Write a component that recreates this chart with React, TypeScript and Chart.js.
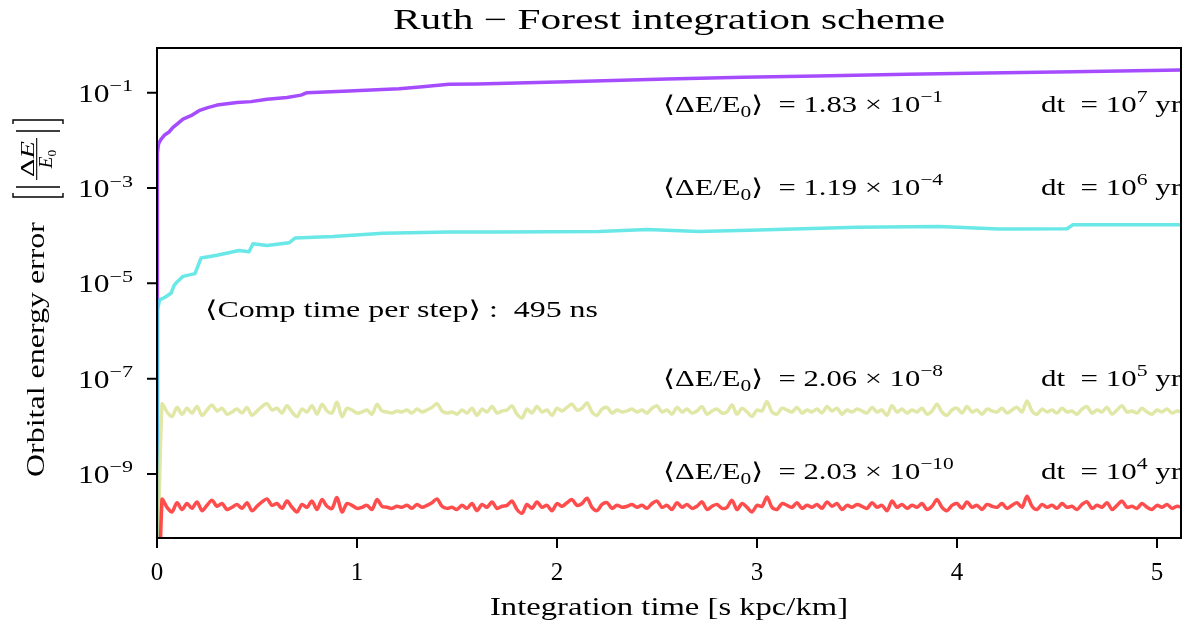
import { useEffect, useRef } from "react";
import { Chart, registerables } from "chart.js";

Chart.register(...registerables);

// ---- data -----------------------------------------------------------------
// dt = 1e7 yr run: relative energy error vs integration time [s kpc/km]
const dt7Time = [0, 0.002, 0.008, 0.018, 0.038, 0.06, 0.08, 0.1, 0.13, 0.17, 0.21, 0.25, 0.3, 0.4, 0.47, 0.55, 0.65, 0.72, 0.75, 0.96, 1.21, 1.3, 1.46, 1.6, 2.05, 2.55, 2.93, 3.3, 3.75, 4.15, 4.58, 5.12];
const dt7Err = [1e-12, 5.4e-3, 8.5e-3, 1.02e-2, 1.3e-2, 1.5e-2, 1.87e-2, 2.2e-2, 2.8e-2, 3.3e-2, 4.2e-2, 4.8e-2, 5.5e-2, 6.2e-2, 6.5e-2, 7.3e-2, 7.9e-2, 8.9e-2, 0.1, 0.108, 0.121, 0.13, 0.15, 0.152, 0.17, 0.194, 0.21, 0.225, 0.243, 0.26, 0.276, 0.3];

// dt = 1e6 yr run
const dt6Time = [0, 0.002, 0.013, 0.04, 0.07, 0.085, 0.1, 0.13, 0.19, 0.215, 0.22, 0.3, 0.41, 0.46, 0.48, 0.55, 0.66, 0.69, 0.88, 1.13, 1.46, 1.71, 2.21, 2.45, 2.71, 2.96, 3.5, 3.91, 4.21, 4.55, 4.58, 5.12];
const dt6Err = [1e-12, 2.7e-6, 4.5e-6, 5.1e-6, 6.2e-6, 9e-6, 1.07e-5, 1.4e-5, 1.6e-5, 3.0e-5, 3.4e-5, 3.9e-5, 4.9e-5, 4.6e-5, 6.8e-5, 6.2e-5, 7.1e-5, 8.9e-5, 9.6e-5, 1.12e-4, 1.2e-4, 1.2e-4, 1.23e-4, 1.35e-4, 1.22e-4, 1.3e-4, 1.5e-4, 1.55e-4, 1.38e-4, 1.4e-4, 1.7e-4, 1.7e-4];

// dt = 1e5 yr and 1e4 yr runs share the same oscillation pattern; output every 0.025 s kpc/km
const smallDtOutputStep = 0.025;
const smallDtMantissa = [
  0.0001,
  2.9, 2.0, 1.6, 2.5, 1.8, 2.4, 1.9, 2.6, 1.7, 2.2,
  2.8, 2.1, 2.4, 1.8, 2.0, 2.3, 1.9, 2.5, 1.7, 2.1,
  2.6, 3.0, 2.2, 2.4, 1.9, 2.7, 2.0, 1.6, 2.3, 2.0,
  2.7, 1.8, 2.9, 2.1, 1.9, 3.2, 1.6, 2.4, 2.2, 1.9,
  2.0, 2.2, 1.8, 2.9, 2.1, 2.0, 1.9, 2.1, 2.0, 2.2,
  1.9, 2.3, 2.0, 2.2, 2.5, 3.0, 2.1, 1.9, 2.0, 1.8,
  2.2, 1.9, 2.4, 1.7, 2.3, 2.0, 2.6, 1.9, 2.1, 2.2,
  2.7, 1.8, 1.5, 2.3, 1.9, 2.6, 2.0, 2.2, 1.7, 2.4,
  2.1, 2.5, 2.9, 2.2, 2.4, 3.1, 2.0, 1.7, 2.3, 2.5,
  1.9, 2.2, 2.0, 2.1, 2.3, 2.0, 2.2, 1.9, 2.4, 2.7,
  2.0, 2.2, 1.8, 2.5, 2.0, 2.3, 1.9, 2.1, 2.6, 1.8,
  2.1, 2.3, 1.9, 2.0, 2.8, 1.8, 2.4, 2.0, 1.6, 2.2,
  2.1, 3.3, 2.0, 1.8, 2.4, 2.2, 2.0, 2.5, 1.9, 2.2,
  2.0, 2.3, 1.9, 2.6, 2.1, 2.4, 1.8, 2.2, 2.0, 2.3,
  2.1, 1.9, 2.5, 2.0, 2.2, 1.7, 2.7, 2.0, 2.3, 1.9,
  2.2, 2.0, 2.4, 1.8, 2.1, 2.9, 2.0, 1.7, 2.2, 2.4,
  1.9, 2.6, 2.0, 2.2, 1.8, 2.3, 2.1, 2.0, 2.4, 1.9,
  2.2, 2.5, 2.0, 3.4, 2.1, 1.8, 2.3, 2.0, 2.2, 1.9,
  2.4, 2.0, 2.1, 1.8, 2.3, 2.6, 1.9, 2.2, 2.0, 2.5,
  1.8, 2.2, 2.7, 2.0, 2.1, 1.9, 2.4, 2.0, 1.8, 2.2,
  2.0, 2.3, 1.9, 2.1, 2.0,
];
const dt5Scale = 1e-8;
const dt4Scale = 1e-10;

// axes
const xMin = 0;
const xMax = 5.12;
const yMin = 4.54e-11;
const yMax = 0.867;
const xTickValues = [0, 1, 2, 3, 4, 5];
const yTickExponents = [-1, -3, -5, -7, -9];

// per-run summary labels
const meanMantissa = ["1.83", "1.19", "2.06", "2.03"];
const meanExponent = ["\u22121", "\u22124", "\u22128", "\u221210"];
const dtExponent = ["7", "6", "5", "4"];
const labelBaselineValue = [3.94e-2, 7.14e-4, 7.0e-8, 7.85e-10];
const labelMeanTime = 2.53;
const labelDtTime = 4.42;
const compTimeText = "\u27E8Comp time per step\u27E9 :  495 ns";
const compTimePos = { t: 0.24, v: 1.97e-6 };

// rainbow colormap samples at alpha 0.7
const colors = ["rgba(128,0,255,0.7)", "rgba(43,221,221,0.7)", "rgba(212,221,128,0.7)", "rgba(255,0,0,0.7)"];

// ---- text helpers ------------------------------------------------------------
type Seg = { t: string; s?: "sup" | "sub"; it?: boolean };
const FAMILY = '"Liberation Serif", "DejaVu Serif", serif';

function segFont(seg: Seg, size: number) {
  const sz = seg.s ? size * 0.7 : size;
  return `${seg.it ? "italic " : ""}${sz}px ${FAMILY}`;
}

function measureSegs(ctx: CanvasRenderingContext2D, segs: Seg[], size: number) {
  let w = 0;
  for (const s of segs) {
    ctx.font = segFont(s, size);
    w += ctx.measureText(s.t).width;
  }
  return w;
}

function drawRich(
  ctx: CanvasRenderingContext2D,
  segs: Seg[],
  x: number,
  y: number,
  size: number,
  width?: number,
  align: "left" | "center" | "right" = "left"
) {
  const natural = measureSegs(ctx, segs, size);
  const sx = width ? width / natural : 1;
  const total = natural * sx;
  const start = align === "center" ? x - total / 2 : align === "right" ? x - total : x;
  ctx.save();
  ctx.translate(start, y);
  ctx.scale(sx, 1);
  ctx.textAlign = "left";
  ctx.textBaseline = "alphabetic";
  ctx.fillStyle = "#000";
  let cx = 0;
  for (const s of segs) {
    ctx.font = segFont(s, size);
    const dy = s.s === "sup" ? -size * 0.42 : s.s === "sub" ? size * 0.22 : 0;
    ctx.fillText(s.t, cx, dy);
    cx += ctx.measureText(s.t).width;
  }
  ctx.restore();
}

// ---- axes, labels and annotations ------------------------------------------
const decorations = {
  id: "decorations",
  afterDatasetsDraw(chart: any) {
    const ctx: CanvasRenderingContext2D = chart.ctx;
    const ca = chart.chartArea;
    const xs = chart.scales.x;
    const ys = chart.scales.y;
    ctx.save();

    // spines
    ctx.strokeStyle = "#000";
    ctx.lineWidth = 2;
    ctx.strokeRect(ca.left, ca.top, ca.right - ca.left, ca.bottom - ca.top);

    // ticks
    ctx.beginPath();
    for (const v of xTickValues) {
      const px = xs.getPixelForValue(v);
      ctx.moveTo(px, ca.bottom);
      ctx.lineTo(px, ca.bottom + 10);
    }
    for (const e of yTickExponents) {
      const py = ys.getPixelForValue(Math.pow(10, e));
      ctx.moveTo(ca.left, py);
      ctx.lineTo(ca.left - 10, py);
    }
    ctx.stroke();

    // tick labels
    for (const v of xTickValues) {
      drawRich(ctx, [{ t: String(v) }], xs.getPixelForValue(v), ca.bottom + 42, 25, undefined, "center");
    }
    for (const e of yTickExponents) {
      const py = ys.getPixelForValue(Math.pow(10, e));
      drawRich(ctx, [{ t: "10" }, { t: "\u2212" + Math.abs(e), s: "sup" }], ca.left - 24, py + 9, 25, 55, "right");
    }

    // title and x label
    const cxMid = (ca.left + ca.right) / 2;
    drawRich(ctx, [{ t: "Ruth \u2212 Forest integration scheme" }], cxMid, 29, 29, 552, "center");
    drawRich(ctx, [{ t: "Integration time [s kpc/km]" }], cxMid, 615, 25, 358, "center");

    // y label (rotated)
    ctx.save();
    ctx.translate(44, 477);
    ctx.rotate(-Math.PI / 2);
    drawRich(ctx, [{ t: "Orbital energy error" }], 0, 0, 25, 255, "left");
    ctx.restore();

    ctx.save();
    ctx.translate(44, 198);
    ctx.rotate(-Math.PI / 2);
    ctx.strokeStyle = "#000";
    ctx.lineWidth = 1.4;
    ctx.beginPath();
    // left bracket
    ctx.moveTo(5, -31);
    ctx.lineTo(1, -31);
    ctx.lineTo(1, 19);
    ctx.lineTo(5, 19);
    // right bracket
    ctx.moveTo(74, -31);
    ctx.lineTo(78, -31);
    ctx.lineTo(78, 19);
    ctx.lineTo(74, 19);
    // absolute value bars
    ctx.moveTo(11, -28);
    ctx.lineTo(11, 16);
    ctx.moveTo(67, -28);
    ctx.lineTo(67, 16);
    ctx.stroke();
    // fraction line
    ctx.lineWidth = 1.1;
    ctx.beginPath();
    ctx.moveTo(18, -7.3);
    ctx.lineTo(60, -7.3);
    ctx.stroke();
    drawRich(ctx, [{ t: "\u0394" }, { t: "E", it: true }], 39, -10.5, 19, 36, "center");
    drawRich(ctx, [{ t: "E", it: true }, { t: "0", s: "sub" }], 39, 7.5, 19, undefined, "center");
    ctx.restore();

    // annotations inside the axes
    ctx.save();
    ctx.beginPath();
    ctx.rect(ca.left, ca.top, ca.right - ca.left, ca.bottom - ca.top);
    ctx.clip();
    const mx = xs.getPixelForValue(labelMeanTime);
    const dx = xs.getPixelForValue(labelDtTime);
    const refSegs: Seg[] = [{ t: "\u27E8\u0394E/E" }, { t: "0", s: "sub" }, { t: "\u27E9  = 1.83 \u00D7 10" }, { t: "\u22121", s: "sup" }];
    for (let i = 0; i < meanMantissa.length; i++) {
      const py = ys.getPixelForValue(labelBaselineValue[i]);
      const segs: Seg[] = [
        { t: "\u27E8\u0394E/E" },
        { t: "0", s: "sub" },
        { t: "\u27E9  = " + meanMantissa[i] + " \u00D7 10" },
        { t: meanExponent[i], s: "sup" },
      ];
      const natural = measureSegs(ctx, segs, 23);
      const ref = measureSegs(ctx, refSegs, 23);
      drawRich(ctx, segs, mx, py, 23, (natural * 280) / ref, "left");
      drawRich(ctx, [{ t: "dt  = 10" }, { t: dtExponent[i], s: "sup" }, { t: " yr" }], dx, py, 23, 140, "left");
    }
    drawRich(ctx, [{ t: compTimeText }], xs.getPixelForValue(compTimePos.t), ys.getPixelForValue(compTimePos.v), 23, 393, "left");
    ctx.restore();

    ctx.restore();
  },
};

function pairs(ts: number[], vs: number[]) {
  return ts.map((t, i) => ({ x: t, y: vs[i] }));
}

function tracePairs(mantissa: number[], scale: number) {
  return mantissa.map((m, i) => ({ x: i * smallDtOutputStep, y: m * scale }));
}

export default function App() {
  const canvasRef = useRef<HTMLCanvasElement | null>(null);

  useEffect(() => {
    if (!canvasRef.current) return;
    const common = {
      borderWidth: 3.5,
      pointRadius: 0,
      tension: 0,
      clip: 0,
      borderJoinStyle: "round" as const,
      fill: false,
    };
    const chart = new Chart(canvasRef.current, {
      type: "line",
      data: {
        datasets: [
          { ...common, tension: 0.3, label: "dt = 1e4 yr", data: tracePairs(smallDtMantissa, dt4Scale), borderColor: colors[3] },
          { ...common, tension: 0.3, label: "dt = 1e5 yr", data: tracePairs(smallDtMantissa, dt5Scale), borderColor: colors[2] },
          { ...common, label: "dt = 1e6 yr", data: pairs(dt6Time, dt6Err), borderColor: colors[1] },
          { ...common, label: "dt = 1e7 yr", data: pairs(dt7Time, dt7Err), borderColor: colors[0] },
        ],
      },
      options: {
        animation: false,
        responsive: true,
        maintainAspectRatio: false,
        layout: { padding: { top: 48, right: 13, left: 0, bottom: 0 } },
        plugins: { legend: { display: false }, tooltip: { enabled: false }, title: { display: false } },
        scales: {
          x: {
            type: "linear",
            min: xMin,
            max: xMax,
            grid: { display: false },
            border: { display: false },
            ticks: { display: false },
            afterFit: (s: any) => {
              s.height = 94;
            },
          },
          y: {
            type: "logarithmic",
            min: yMin,
            max: yMax,
            grid: { display: false },
            border: { display: false },
            ticks: { display: false },
            afterFit: (s: any) => {
              s.width = 157;
            },
          },
        },
      },
      plugins: [decorations],
    } as any);
    return () => chart.destroy();
  }, []);

  return (
    <div style={{ position: "absolute", left: 0, top: 0, width: 1194, height: 632, background: "#fff" }}>
      <canvas ref={canvasRef} />
    </div>
  );
}
